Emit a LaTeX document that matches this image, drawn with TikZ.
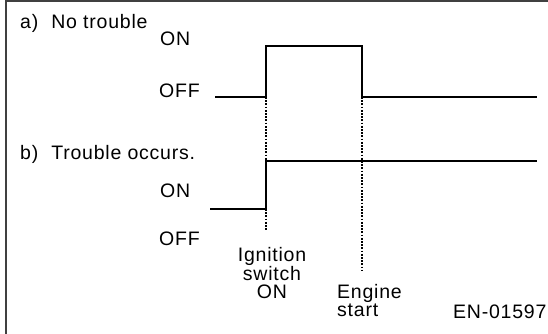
\documentclass[tikz,border=0pt]{standalone}
\usepackage{fontspec}
\setmainfont[LetterSpace=4]{Liberation Sans}
\begin{document}
\begin{tikzpicture}[x=1pt,y=-1pt,
  lbl/.style={anchor=base west,inner sep=0pt,font=\fontsize{19.5pt}{17.5pt}\selectfont},
  wave/.style={line width=1.3pt,line join=miter},
  guide/.style={line width=1.7pt,dash pattern=on 1.7pt off 1.5pt},
  frame/.style={line width=1.5pt,draw=black!75}]
\useasboundingbox (0,0) rectangle (548,333);
\draw[frame] (6,334) -- (6,1) -- (549,1);
% labels
\node[lbl] (ta) at (20,28) {a)\hspace{13pt}No trouble};
\node[lbl] (onA) at (160,45) {ON};
\node[lbl] (offA) at (159,97) {OFF};
\node[lbl] (tb) at (20,159) {b)\hspace{13pt}Trouble occurs.};
\node[lbl] (onB) at (160,197) {ON};
\node[lbl] (offB) at (159,245) {OFF};
\node[lbl,anchor=base,align=center] (ign) at (272,298) {Ignition\\switch\\ON};
\node[lbl,align=left] (eng) at (337,316) {Engine\\start};
\node[lbl] (code) at (453,318) {EN-01597};
% waveform a
\coordinate (a0) at (215,97);
\coordinate (a1) at (266,97);
\coordinate (a2) at (266,46);
\coordinate (a3) at (362,46);
\coordinate (a4) at (362,97);
\coordinate (a5) at (537,97);
\draw[wave] (a0) -- (a1) -- (a2) -- (a3) -- (a4) -- (a5);
% waveform b
\coordinate (b0) at (210,209);
\coordinate (b1) at (266,209);
\coordinate (b2) at (266,161);
\coordinate (b3) at (537,161);
\draw[wave] (b0) -- (b1) -- (b2) -- (b3);
% guides
\coordinate (g1) at (266,231);
\coordinate (g2) at (362,270);
\draw[guide] (a1) -- (b2);
\draw[guide] (b1) -- (g1);
\draw[guide] (a4) -- (g2);
\end{tikzpicture}
\end{document}
